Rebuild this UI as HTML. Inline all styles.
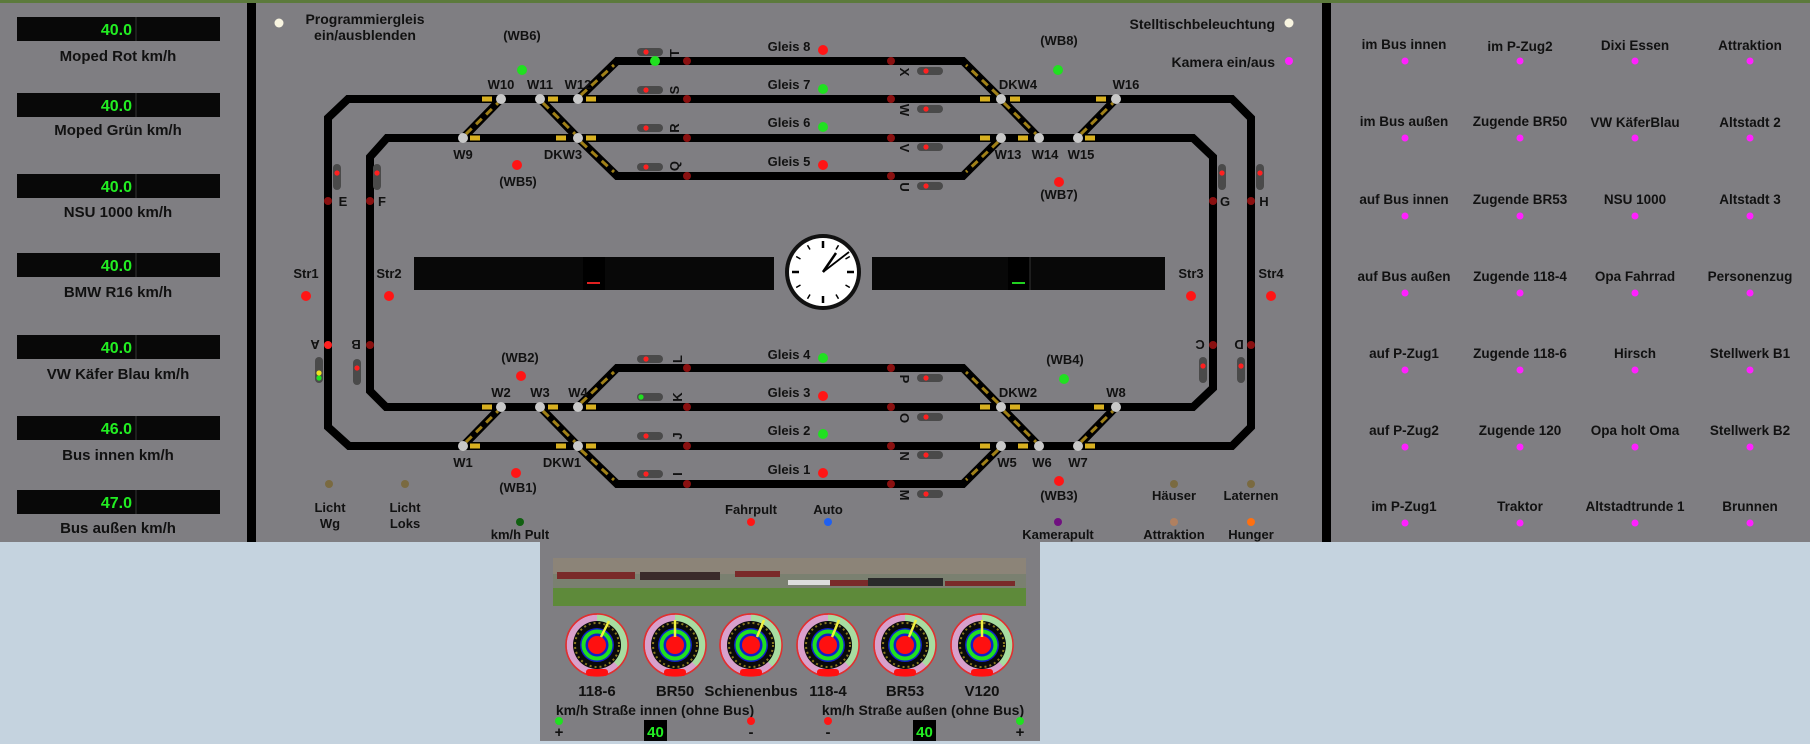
<!DOCTYPE html>
<html><head><meta charset="utf-8"><style>
html,body{margin:0;padding:0;width:1810px;height:744px;overflow:hidden;background:#c5d3df}
svg{display:block}
text{font-family:"Liberation Sans","DejaVu Sans",sans-serif;font-weight:bold;fill:#111}
</style></head><body>
<svg width="1810" height="744" viewBox="0 0 1810 744" xmlns="http://www.w3.org/2000/svg">
<defs>
<g id="sigH"><rect x="-13" y="-4" width="26" height="8" rx="4" fill="#4a4a4a"/><circle cx="-4" cy="0" r="2.6" fill="#ff2020"/></g>
<g id="sigV"><rect x="-4" y="-13" width="8" height="26" rx="4" fill="#4a4a4a"/><circle cx="0" cy="-4" r="2.6" fill="#ff2020"/></g>
<g id="gauge">
<circle r="31" fill="#d8a0cc" stroke="#e03030" stroke-width="1.5"/>
<path d="M0,-31 A31,31 0 0 1 22,22 L0,0Z" fill="#a8dca0"/>
<circle r="31" fill="none" stroke="#e03030" stroke-width="1.5"/>
<circle r="24" fill="#0a0a0a"/>
<circle r="22" fill="none" stroke="#8a7a20" stroke-width="2" stroke-dasharray="2 3"/>
<circle r="17" fill="#1020c8"/>
<circle r="13.5" fill="none" stroke="#20e020" stroke-width="4"/>
<circle r="9" fill="#ff1010"/>
<rect x="-11" y="24" width="22" height="7" rx="3" fill="#ff1010"/>
</g>
</defs>
<rect x="0" y="0" width="1810" height="542" fill="#7f7e82"/>
<rect x="0" y="0" width="1810" height="3" fill="#5c7a3c"/>
<rect x="247" y="3" width="9" height="539" fill="#000"/>
<rect x="1322" y="3" width="9" height="539" fill="#000"/>
<!-- left displays -->
<g font-size="15" text-anchor="middle">
<g><rect x="17" y="17" width="203" height="24" fill="#080808"/><line x1="136" y1="17" x2="136" y2="41" stroke="#333"/><text x="132" y="35" text-anchor="end" style="fill:#22ee22" font-size="16">40.0</text><text x="118" y="61">Moped Rot km/h</text></g>
<g><rect x="17" y="93" width="203" height="24" fill="#080808"/><line x1="136" y1="93" x2="136" y2="117" stroke="#333"/><text x="132" y="111" text-anchor="end" style="fill:#22ee22" font-size="16">40.0</text><text x="118" y="135">Moped Grün km/h</text></g>
<g><rect x="17" y="174" width="203" height="24" fill="#080808"/><line x1="136" y1="174" x2="136" y2="198" stroke="#333"/><text x="132" y="192" text-anchor="end" style="fill:#22ee22" font-size="16">40.0</text><text x="118" y="217">NSU 1000 km/h</text></g>
<g><rect x="17" y="253" width="203" height="24" fill="#080808"/><line x1="136" y1="253" x2="136" y2="277" stroke="#333"/><text x="132" y="271" text-anchor="end" style="fill:#22ee22" font-size="16">40.0</text><text x="118" y="297">BMW R16 km/h</text></g>
<g><rect x="17" y="335" width="203" height="24" fill="#080808"/><line x1="136" y1="335" x2="136" y2="359" stroke="#333"/><text x="132" y="353" text-anchor="end" style="fill:#22ee22" font-size="16">40.0</text><text x="118" y="379">VW Käfer Blau km/h</text></g>
<g><rect x="17" y="416" width="203" height="24" fill="#080808"/><line x1="136" y1="416" x2="136" y2="440" stroke="#333"/><text x="132" y="434" text-anchor="end" style="fill:#22ee22" font-size="16">46.0</text><text x="118" y="460">Bus innen km/h</text></g>
<g><rect x="17" y="490" width="203" height="24" fill="#080808"/><line x1="136" y1="490" x2="136" y2="514" stroke="#333"/><text x="132" y="508" text-anchor="end" style="fill:#22ee22" font-size="16">47.0</text><text x="118" y="533">Bus außen km/h</text></g>
</g>
<!-- tracks -->
<g fill="none" stroke="#000" stroke-width="8" stroke-linejoin="miter">
<path d="M348,99 L1232,99 L1251,118 L1251,427 L1232,446 L349,446 L328,427 L328,118 Z"/>
<path d="M387,138 L1193,138 L1213,157 L1213,388 L1193,407 L386,407 L370,391 L370,157 Z"/>
<path d="M578,99 L617,61 L963,61 L1001,99"/>
<path d="M578,138 L617,176 L963,176 L1001,138"/>
<path d="M578,407 L617,368 L963,368 L1001,407"/>
<path d="M578,446 L617,484 L963,484 L1001,446"/>
<path d="M463,138 L501,99 M540,99 L578,138 M1001,99 L1039,138 M1078,138 L1116,99"/>
<path d="M463,446 L501,407 M540,407 L578,446 M1001,407 L1039,446 M1078,446 L1116,407"/>
</g>
<g fill="none" stroke="#a08018" stroke-width="3" stroke-dasharray="8 6">
<path d="M466,134 L498,103 M543,103 L575,134 M1004,103 L1036,134 M1081,134 L1113,103"/>
<path d="M466,442 L498,411 M543,411 L575,442 M1004,411 L1036,442 M1081,442 L1113,411"/>
<path d="M581,95 L614,65 M581,142 L614,172 M581,403 L614,372 M581,450 L614,480 M998,95 L966,65 M998,142 L966,172 M998,403 L966,372 M998,450 L966,480"/>
</g>
<g stroke="#d8b020" stroke-width="5">
<path d="M482,99 h10 M505,99 h0 M548,99 h10 M586,99 h10 M470,138 h10 M556,138 h10 M586,138 h10 M980,99 h10 M1010,99 h10 M980,138 h10 M1018,138 h10 M1085,138 h10 M1096,99 h10"/>
<path d="M482,407 h10 M548,407 h10 M586,407 h10 M470,446 h10 M556,446 h10 M586,446 h10 M980,407 h10 M1010,407 h10 M1094,407 h10 M980,446 h10 M1018,446 h10 M1085,446 h10"/>
</g>
<g fill="#c8c8c8">
<circle cx="501" cy="99" r="5"/><circle cx="540" cy="99" r="5"/><circle cx="578" cy="99" r="5"/><circle cx="463" cy="138" r="5"/><circle cx="578" cy="138" r="5"/>
<circle cx="1001" cy="99" r="5"/><circle cx="1116" cy="99" r="5"/><circle cx="1001" cy="138" r="5"/><circle cx="1039" cy="138" r="5"/><circle cx="1078" cy="138" r="5"/>
<circle cx="501" cy="407" r="5"/><circle cx="540" cy="407" r="5"/><circle cx="578" cy="407" r="5"/><circle cx="463" cy="446" r="5"/><circle cx="578" cy="446" r="5"/>
<circle cx="1001" cy="407" r="5"/><circle cx="1116" cy="407" r="5"/><circle cx="1001" cy="446" r="5"/><circle cx="1039" cy="446" r="5"/><circle cx="1078" cy="446" r="5"/>
</g>
<!-- dark red track dots -->
<g fill="#8a1010">
<circle cx="687" cy="61" r="4"/><circle cx="687" cy="99" r="4"/><circle cx="687" cy="138" r="4"/><circle cx="687" cy="176" r="4"/>
<circle cx="891" cy="61" r="4"/><circle cx="891" cy="99" r="4"/><circle cx="891" cy="138" r="4"/><circle cx="891" cy="176" r="4"/>
<circle cx="687" cy="368" r="4"/><circle cx="687" cy="407" r="4"/><circle cx="687" cy="446" r="4"/><circle cx="687" cy="484" r="4"/>
<circle cx="891" cy="368" r="4"/><circle cx="891" cy="407" r="4"/><circle cx="891" cy="446" r="4"/><circle cx="891" cy="484" r="4"/>
<circle cx="328" cy="201" r="4"/><circle cx="370" cy="201" r="4"/><circle cx="1213" cy="201" r="4"/><circle cx="1251" cy="201" r="4"/>
<circle cx="370" cy="345" r="4"/><circle cx="1213" cy="345" r="4"/><circle cx="1251" cy="345" r="4"/>
</g>
<circle cx="328" cy="345" r="4" fill="#ff2020"/>
<!-- signals -->
<use href="#sigH" x="650" y="52"/><use href="#sigH" x="650" y="90"/><use href="#sigH" x="650" y="128"/><use href="#sigH" x="650" y="167"/>
<use href="#sigH" x="930" y="71"/><use href="#sigH" x="930" y="109"/><use href="#sigH" x="930" y="147"/><use href="#sigH" x="930" y="186"/>
<use href="#sigH" x="650" y="359"/><use href="#sigH" x="650" y="436"/><use href="#sigH" x="650" y="474"/>
<g transform="translate(650,397)"><rect x="-13" y="-4" width="26" height="8" rx="4" fill="#4a4a4a"/><circle cx="-9" cy="0" r="2.6" fill="#20e020"/></g>
<use href="#sigH" x="930" y="378"/><use href="#sigH" x="930" y="417"/><use href="#sigH" x="930" y="455"/><use href="#sigH" x="930" y="494"/>
<use href="#sigV" x="337" y="177"/><use href="#sigV" x="377" y="177"/><use href="#sigV" x="1222" y="177"/><use href="#sigV" x="1260" y="177"/>
<g transform="translate(319,370)"><rect x="-4" y="-13" width="8" height="26" rx="4" fill="#4a4a4a"/><circle cx="0" cy="3" r="2.6" fill="#f0e020"/><circle cx="0" cy="8" r="2.6" fill="#20e020"/></g>
<use href="#sigV" x="357" y="372"/><use href="#sigV" x="1203" y="370"/><use href="#sigV" x="1241" y="370"/>
<circle cx="655" cy="61" r="5" fill="#20e020"/>
<!-- rotated letters -->
<g font-size="13" text-anchor="middle">
<text transform="translate(674,53) rotate(-90)" dy="5">T</text>
<text transform="translate(674,90) rotate(-90)" dy="5">S</text>
<text transform="translate(674,128) rotate(-90)" dy="5">R</text>
<text transform="translate(674,166) rotate(-90)" dy="5">Q</text>
<text transform="translate(905,72) rotate(90)" dy="5">X</text>
<text transform="translate(905,110) rotate(90)" dy="5">W</text>
<text transform="translate(905,148) rotate(90)" dy="5">V</text>
<text transform="translate(905,187) rotate(90)" dy="5">U</text>
<text transform="translate(677,359) rotate(-90)" dy="5">L</text>
<text transform="translate(677,397) rotate(-90)" dy="5">K</text>
<text transform="translate(677,436) rotate(-90)" dy="5">J</text>
<text transform="translate(677,474) rotate(-90)" dy="5">I</text>
<text transform="translate(905,379) rotate(90)" dy="5">P</text>
<text transform="translate(905,418) rotate(90)" dy="5">O</text>
<text transform="translate(905,456) rotate(90)" dy="5">N</text>
<text transform="translate(905,495) rotate(90)" dy="5">M</text>
<text transform="translate(315,345) rotate(180)" dy="5">A</text>
<text transform="translate(356,345) rotate(180)" dy="5">B</text>
<text transform="translate(1200,345) rotate(180)" dy="5">C</text>
<text transform="translate(1239,345) rotate(180)" dy="5">D</text>
</g>
<!-- labels -->
<g font-size="13" text-anchor="middle">
<text x="343" y="206">E</text><text x="382" y="206">F</text><text x="1225" y="206">G</text><text x="1264" y="206">H</text>
<text x="501" y="89">W10</text><text x="540" y="89">W11</text><text x="578" y="89">W12</text>
<text x="463" y="159">W9</text><text x="563" y="159">DKW3</text>
<text x="1018" y="89">DKW4</text><text x="1126" y="89">W16</text>
<text x="1008" y="159">W13</text><text x="1045" y="159">W14</text><text x="1081" y="159">W15</text>
<text x="501" y="397">W2</text><text x="540" y="397">W3</text><text x="578" y="397">W4</text>
<text x="463" y="467">W1</text><text x="562" y="467">DKW1</text>
<text x="1018" y="397">DKW2</text><text x="1116" y="397">W8</text>
<text x="1007" y="467">W5</text><text x="1042" y="467">W6</text><text x="1078" y="467">W7</text>
<text x="522" y="40">(WB6)</text><text x="518" y="186">(WB5)</text><text x="1059" y="45">(WB8)</text><text x="1059" y="199">(WB7)</text>
<text x="520" y="362">(WB2)</text><text x="518" y="492">(WB1)</text><text x="1065" y="364">(WB4)</text><text x="1059" y="500">(WB3)</text>
<text x="789" y="51">Gleis 8</text><text x="789" y="89">Gleis 7</text><text x="789" y="127">Gleis 6</text><text x="789" y="166">Gleis 5</text>
<text x="789" y="359">Gleis 4</text><text x="789" y="397">Gleis 3</text><text x="789" y="435">Gleis 2</text><text x="789" y="474">Gleis 1</text>
<text x="306" y="278">Str1</text><text x="389" y="278">Str2</text><text x="1191" y="278">Str3</text><text x="1271" y="278">Str4</text>
<text x="365" y="24" font-size="14">Programmiergleis</text><text x="365" y="40" font-size="14">ein/ausblenden</text>
<text x="1275" y="29" text-anchor="end" font-size="14">Stelltischbeleuchtung</text>
<text x="1275" y="67" text-anchor="end" font-size="14">Kamera ein/aus</text>
<text x="330" y="512">Licht</text><text x="330" y="528">Wg</text>
<text x="405" y="512">Licht</text><text x="405" y="528">Loks</text>
<text x="520" y="539">km/h Pult</text>
<text x="751" y="514">Fahrpult</text><text x="828" y="514">Auto</text>
<text x="1174" y="500">Häuser</text><text x="1251" y="500">Laternen</text>
<text x="1058" y="539">Kamerapult</text><text x="1174" y="539">Attraktion</text><text x="1251" y="539">Hunger</text>
</g>
<!-- indicator dots -->
<circle cx="279" cy="23" r="4.5" fill="#f8f4e0"/><circle cx="1289" cy="23" r="4.5" fill="#f8f4e0"/><circle cx="1289" cy="61" r="4" fill="#ff20ff"/>
<g fill="#ff1515"><circle cx="823" cy="50" r="5"/><circle cx="823" cy="165" r="5"/><circle cx="823" cy="396" r="5"/><circle cx="823" cy="473" r="5"/>
<circle cx="517" cy="165" r="5"/><circle cx="1059" cy="182" r="5"/><circle cx="521" cy="376" r="5"/><circle cx="516" cy="473" r="5"/><circle cx="1059" cy="481" r="5"/>
<circle cx="306" cy="296" r="5"/><circle cx="389" cy="296" r="5"/><circle cx="1191" cy="296" r="5"/><circle cx="1271" cy="296" r="5"/><circle cx="751" cy="522" r="4"/></g>
<g fill="#20e020"><circle cx="823" cy="89" r="5"/><circle cx="823" cy="127" r="5"/><circle cx="823" cy="358" r="5"/><circle cx="823" cy="434" r="5"/><circle cx="522" cy="70" r="5"/><circle cx="1058" cy="70" r="5"/><circle cx="1064" cy="379" r="5"/></g>
<circle cx="329" cy="484" r="4" fill="#7a6a40"/><circle cx="405" cy="484" r="4" fill="#7a6a40"/><circle cx="1174" cy="484" r="4" fill="#7a6a40"/><circle cx="1251" cy="484" r="4" fill="#7a6a40"/>
<circle cx="520" cy="522" r="4" fill="#106010"/><circle cx="828" cy="522" r="4" fill="#2060f0"/><circle cx="1058" cy="522" r="4" fill="#701080"/><circle cx="1174" cy="522" r="4" fill="#b08060"/><circle cx="1251" cy="522" r="4" fill="#ff7010"/>
<!-- displays -->
<rect x="414" y="257" width="360" height="33" fill="#080808"/><rect x="583" y="257" width="22" height="33" fill="#000"/><rect x="587" y="282" width="13" height="2" fill="#e02020"/>
<rect x="872" y="257" width="293" height="33" fill="#080808"/><rect x="1008" y="257" width="22" height="33" fill="#000"/><line x1="1030" y1="257" x2="1030" y2="290" stroke="#333"/><rect x="1012" y="282" width="13" height="2" fill="#20d020"/>
<!-- clock -->
<g transform="translate(823,272)">
<circle r="38" fill="#111"/><circle r="34" fill="#fff"/>
<g stroke="#000" stroke-width="2.5">
<line x1="0" y1="-31" x2="0" y2="-24"/><line x1="0" y1="31" x2="0" y2="24"/><line x1="-31" y1="0" x2="-24" y2="0"/><line x1="31" y1="0" x2="24" y2="0"/>
<line x1="15.5" y1="-26.8" x2="13" y2="-22.5" stroke-width="1.5"/><line x1="26.8" y1="-15.5" x2="22.5" y2="-13" stroke-width="1.5"/><line x1="26.8" y1="15.5" x2="22.5" y2="13" stroke-width="1.5"/><line x1="15.5" y1="26.8" x2="13" y2="22.5" stroke-width="1.5"/>
<line x1="-15.5" y1="-26.8" x2="-13" y2="-22.5" stroke-width="1.5"/><line x1="-26.8" y1="-15.5" x2="-22.5" y2="-13" stroke-width="1.5"/><line x1="-26.8" y1="15.5" x2="-22.5" y2="13" stroke-width="1.5"/><line x1="-15.5" y1="26.8" x2="-13" y2="22.5" stroke-width="1.5"/>
<line x1="0" y1="0" x2="13" y2="-19" stroke-width="2.5"/><line x1="0" y1="0" x2="26" y2="-20" stroke-width="1.8"/>
</g></g>
<!-- right panel -->
<g font-size="13.5" text-anchor="middle">
<text x="1404" y="49">im Bus innen</text><text x="1520" y="51">im P-Zug2</text><text x="1635" y="50">Dixi Essen</text><text x="1750" y="50">Attraktion</text>
<text x="1404" y="126">im Bus außen</text><text x="1520" y="126">Zugende BR50</text><text x="1635" y="127">VW KäferBlau</text><text x="1750" y="127">Altstadt 2</text>
<text x="1404" y="204">auf Bus innen</text><text x="1520" y="204">Zugende BR53</text><text x="1635" y="204">NSU 1000</text><text x="1750" y="204">Altstadt 3</text>
<text x="1404" y="281">auf Bus außen</text><text x="1520" y="281">Zugende 118-4</text><text x="1635" y="281">Opa Fahrrad</text><text x="1750" y="281">Personenzug</text>
<text x="1404" y="358">auf P-Zug1</text><text x="1520" y="358">Zugende 118-6</text><text x="1635" y="358">Hirsch</text><text x="1750" y="358">Stellwerk B1</text>
<text x="1404" y="435">auf P-Zug2</text><text x="1520" y="435">Zugende 120</text><text x="1635" y="435">Opa holt Oma</text><text x="1750" y="435">Stellwerk B2</text>
<text x="1404" y="511">im P-Zug1</text><text x="1520" y="511">Traktor</text><text x="1635" y="511">Altstadtrunde 1</text><text x="1750" y="511">Brunnen</text>
</g>
<g fill="#ff20ff">
<circle cx="1405" cy="61" r="3.5"/><circle cx="1520" cy="61" r="3.5"/><circle cx="1635" cy="61" r="3.5"/><circle cx="1750" cy="61" r="3.5"/>
<circle cx="1405" cy="138" r="3.5"/><circle cx="1520" cy="138" r="3.5"/><circle cx="1635" cy="138" r="3.5"/><circle cx="1750" cy="138" r="3.5"/>
<circle cx="1405" cy="216" r="3.5"/><circle cx="1520" cy="216" r="3.5"/><circle cx="1635" cy="216" r="3.5"/><circle cx="1750" cy="216" r="3.5"/>
<circle cx="1405" cy="293" r="3.5"/><circle cx="1520" cy="293" r="3.5"/><circle cx="1635" cy="293" r="3.5"/><circle cx="1750" cy="293" r="3.5"/>
<circle cx="1405" cy="370" r="3.5"/><circle cx="1520" cy="370" r="3.5"/><circle cx="1635" cy="370" r="3.5"/><circle cx="1750" cy="370" r="3.5"/>
<circle cx="1405" cy="447" r="3.5"/><circle cx="1520" cy="447" r="3.5"/><circle cx="1635" cy="447" r="3.5"/><circle cx="1750" cy="447" r="3.5"/>
<circle cx="1405" cy="523" r="3.5"/><circle cx="1520" cy="523" r="3.5"/><circle cx="1635" cy="523" r="3.5"/><circle cx="1750" cy="523" r="3.5"/>
</g>
<!-- lower panel -->
<rect x="540" y="542" width="500" height="199" fill="#7f7e82"/>
<rect x="553" y="558" width="473" height="48" fill="#6a8a4a"/>
<rect x="553" y="558" width="473" height="16" fill="#8c8478"/>
<rect x="553" y="574" width="473" height="14" fill="#7a8070"/>
<rect x="553" y="588" width="473" height="18" fill="#5e8a3a"/>
<g fill="#7a2a2a"><rect x="557" y="572" width="78" height="7"/><rect x="640" y="572" width="80" height="8" fill="#3a2a2a"/><rect x="735" y="571" width="45" height="6"/><rect x="788" y="580" width="60" height="5" fill="#ddd"/><rect x="830" y="580" width="40" height="6"/><rect x="868" y="578" width="75" height="8" fill="#2a2a2a"/><rect x="945" y="581" width="70" height="5"/></g>
<use href="#gauge" x="597" y="645"/><use href="#gauge" x="675" y="645"/><use href="#gauge" x="751" y="645"/><use href="#gauge" x="828" y="645"/><use href="#gauge" x="905" y="645"/><use href="#gauge" x="982" y="645"/>
<g stroke="#f0f040" stroke-width="2.5">
<line x1="601" y1="637" x2="609" y2="621"/><line x1="675" y1="637" x2="675" y2="620"/><line x1="757" y1="637" x2="764" y2="620"/><line x1="832" y1="637" x2="839" y2="620"/><line x1="909" y1="637" x2="916" y2="620"/><line x1="982" y1="637" x2="982" y2="620"/>
</g>
<g font-size="15" text-anchor="middle">
<text x="597" y="696">118-6</text><text x="675" y="696">BR50</text><text x="751" y="696">Schienenbus</text><text x="828" y="696">118-4</text><text x="905" y="696">BR53</text><text x="982" y="696">V120</text>
<text x="655" y="715" font-size="14">km/h Straße innen (ohne Bus)</text><text x="923" y="715" font-size="14">km/h Straße außen (ohne Bus)</text>
<text x="559" y="737">+</text><text x="751" y="737">-</text><text x="828" y="737">-</text><text x="1020" y="737">+</text>
</g>
<circle cx="559" cy="721" r="4" fill="#20e020"/><circle cx="1020" cy="721" r="4" fill="#20e020"/><circle cx="751" cy="721" r="4" fill="#ff1515"/><circle cx="828" cy="721" r="4" fill="#ff1515"/>
<rect x="644" y="720" width="23" height="21" fill="#000"/><rect x="913" y="720" width="23" height="21" fill="#000"/>
<text x="655.5" y="737" font-size="15" text-anchor="middle" style="fill:#22ee22">40</text>
<text x="924.5" y="737" font-size="15" text-anchor="middle" style="fill:#22ee22">40</text>
</svg>
</body></html>
